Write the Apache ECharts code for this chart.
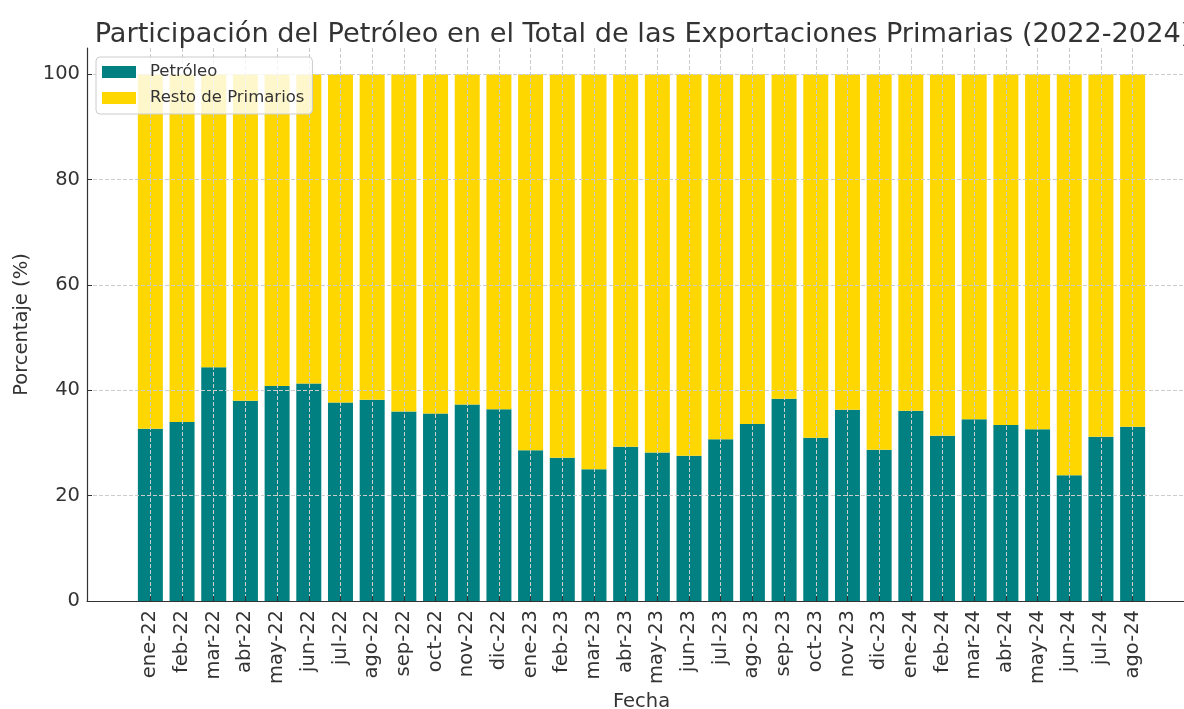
<!DOCTYPE html>
<html>
<head>
<meta charset="utf-8">
<title>Participación del Petróleo</title>
<script src="https://cdn.jsdelivr.net/npm/echarts@6/dist/echarts.min.js"></script>
<style>
  html, body { margin: 0; padding: 0; background: #fff; }
  #chart { width: 1184px; height: 709px; }
</style>
</head>
<body>
<div id="chart"></div>
<script>
  // datos
  const meses = ['ene-22', 'feb-22', 'mar-22', 'abr-22', 'may-22', 'jun-22', 'jul-22', 'ago-22',
    'sep-22', 'oct-22', 'nov-22', 'dic-22', 'ene-23', 'feb-23', 'mar-23', 'abr-23',
    'may-23', 'jun-23', 'jul-23', 'ago-23', 'sep-23', 'oct-23', 'nov-23', 'dic-23',
    'ene-24', 'feb-24', 'mar-24', 'abr-24', 'may-24', 'jun-24', 'jul-24', 'ago-24']
  const petroleo = [32.7, 34.0, 44.4, 38.0, 40.8, 41.3, 37.7, 38.2,
    36.0, 35.6, 37.3, 36.4, 28.6, 27.2, 25.0, 29.3,
    28.2, 27.6, 30.7, 33.6, 38.4, 31.0, 36.3, 28.7,
    36.1, 31.4, 34.5, 33.4, 32.6, 23.9, 31.2, 33.1]
  const restoPrimarios = [67.3, 66.0, 55.6, 62.0, 59.2, 58.7, 62.3, 61.8,
    64.0, 64.4, 62.7, 63.6, 71.4, 72.8, 75.0, 70.7,
    71.8, 72.4, 69.3, 66.4, 61.6, 69.0, 63.7, 71.3,
    63.9, 68.6, 65.5, 66.6, 67.4, 76.1, 68.8, 66.9]
  const ticksY = [0, 20, 40, 60, 80, 100]

  const posX = meses.map((m, i) => i)
  const font = 'DejaVu Sans'
  const gridLine = { show: true, lineStyle: { color: '#cccccc', type: [4, 2], width: 1 } }

  let myChart = echarts.init(document.getElementById('chart'))
  myChart.setOption({
    animation: false,
    title: {
      text: 'Participación del Petróleo en el Total de las Exportaciones Primarias (2022-2024)',
      left: 638,
      textAlign: 'center',
      top: 16,
      textStyle: { fontFamily: font, fontSize: 27.2, fontWeight: 'normal', color: '#333' }
    },
    legend: {
      orient: 'vertical',
      left: 96,
      top: 57,
      padding: [6, 8, 7, 6],
      itemWidth: 34,
      itemHeight: 12,
      itemGap: 8,
      icon: 'rect',
      backgroundColor: 'rgba(255,255,255,0.8)',
      borderColor: '#cccccc',
      borderWidth: 1,
      borderRadius: 4,
      textStyle: { fontFamily: font, fontSize: 16.5, color: '#333', lineHeight: 18, padding: [0, 0, 0, 9] },
      data: ['Petróleo', 'Resto de Primarios']
    },
    grid: { left: 87, right: -12, top: 48, bottom: 108, outerBoundsMode: 'none', containLabel: false },
    xAxis: {
      type: 'value',
      min: -2,
      max: 33,
      interval: 1,
      z: 3,
      name: 'Fecha',
      nameLocation: 'middle',
      nameGap: 81,
      nameTextStyle: { fontFamily: font, fontSize: 19.5, color: '#333' },
      axisLine: { onZero: false, lineStyle: { color: '#333', width: 1.2 } },
      axisTick: { customValues: posX, inside: true, length: 5, lineStyle: { color: '#333' } },
      axisLabel: {
        customValues: posX,
        rotate: 90,
        margin: 9,
        fontFamily: font,
        fontSize: 19.5,
        color: '#333',
        formatter: v => meses[v] || ''
      },
      splitLine: gridLine
    },
    yAxis: {
      type: 'value',
      min: 0,
      max: 105,
      interval: 20,
      z: 3,
      name: 'Porcentaje (%)',
      nameLocation: 'middle',
      nameRotate: 90,
      nameGap: 55,
      nameTextStyle: { fontFamily: font, fontSize: 19.5, color: '#333' },
      axisLine: { show: true, onZero: false, lineStyle: { color: '#333', width: 1.2 } },
      axisTick: { show: true, customValues: ticksY, inside: true, length: 5, lineStyle: { color: '#333' } },
      axisLabel: { customValues: ticksY, margin: 7, fontFamily: font, fontSize: 19.5, color: '#333' },
      splitLine: gridLine
    },
    series: [
      {
        name: 'Petróleo',
        type: 'bar',
        stack: 'total',
        barWidth: 25,
        color: '#008080',
        encode: { x: 1, y: 0 },
        data: petroleo.map((v, i) => [v, i])
      },
      {
        name: 'Resto de Primarios',
        type: 'bar',
        stack: 'total',
        barWidth: 25,
        color: '#FFD700',
        encode: { x: 1, y: 0 },
        data: restoPrimarios.map((v, i) => [v, i])
      }
    ]
  })
</script>
</body>
</html>
